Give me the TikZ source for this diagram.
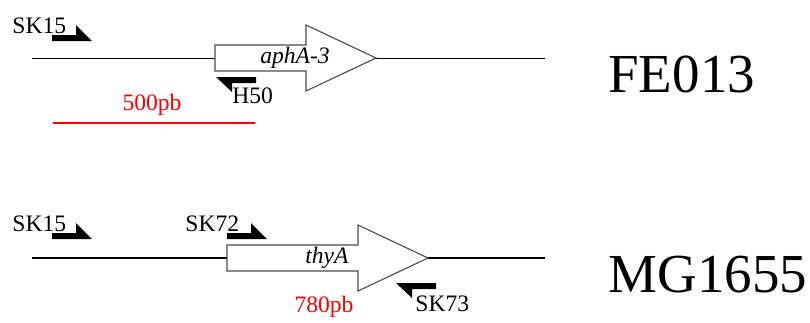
\documentclass[tikz,border=0pt]{standalone}
\usepackage{fontspec}
\setmainfont{Liberation Serif}
\usepackage{tikz}
\usetikzlibrary{positioning}

\begin{document}
\begin{tikzpicture}[x=0.5pt, y=-0.5pt,
  backbone/.style={draw=black, line width=#1},
  backbone/.default=0.45pt,
  gene/.style={draw=black!70, fill=white, line width=0.55pt},
  lbl/.style={inner sep=0pt, font=\fontsize{11.8}{13}\selectfont},
  genelbl/.style={lbl, font=\fontsize{11.8}{13}\selectfont\itshape},
  size/.style={lbl, text=red},
  strain/.style={inner sep=0pt, font=\fontsize{27.5}{30}\selectfont},
  fwdprimer/.pic={\fill (0,0) -- (0,-6) -- (24,-6) -- (24,-16) -- (40,0) -- cycle;},
  revprimer/.pic={\fill (0,0) -- (0,6) -- (-24,6) -- (-24,15) -- (-40,0) -- cycle;}
]
  \useasboundingbox (0,0) rectangle (810,322);

  % FE013
  \coordinate (fa) at (32,58);
  \coordinate (fb) at (545,58);
  \draw[backbone] (fa) -- (fb);
  \draw[gene] (215,45) -- (306,45) -- (306,25) -- (376,58) -- (306,91) -- (306,71) -- (215,71) -- cycle;
  \node[genelbl, anchor=base] (apha) at (295,63) {aphA-3};
  \pic at (52,41) {fwdprimer};
  \node[lbl, anchor=base west] (sk15a) at (12,33) {SK15};
  \pic at (256,77) {revprimer};
  \node[lbl, anchor=base west] (h50) at (232,103) {H50};
  \node[size, anchor=base] (len500) at (152,110) {500pb};
  \coordinate (ra) at (53,123);
  \coordinate (rb) at (255,123);
  \draw[red, line width=0.6pt] (ra) -- (rb);
  \node[strain, anchor=base west] (fe013) at (608,92) {FE013};

  % MG1655
  \coordinate (ma) at (32,258);
  \coordinate (mb) at (545,258);
  \draw[backbone=0.8pt] (ma) -- (mb);
  \draw[gene] (227,245) -- (358,245) -- (358,225) -- (428,258) -- (358,291) -- (358,271) -- (227,271) -- cycle;
  \node[genelbl, anchor=base] (thya) at (327,263) {thyA};
  \pic at (52,239) {fwdprimer};
  \node[lbl, anchor=base west] (sk15b) at (12,231) {SK15};
  \pic at (227,239) {fwdprimer};
  \node[lbl, anchor=base west] (sk72) at (185,231) {SK72};
  \pic at (436,283) {revprimer};
  \node[lbl, anchor=base west] (sk73) at (415,311) {SK73};
  \node[size, anchor=base] (len780) at (324,312) {780pb};
  \node[strain, anchor=base west] (mg1655) at (608,292) {MG1655};
\end{tikzpicture}
\end{document}
